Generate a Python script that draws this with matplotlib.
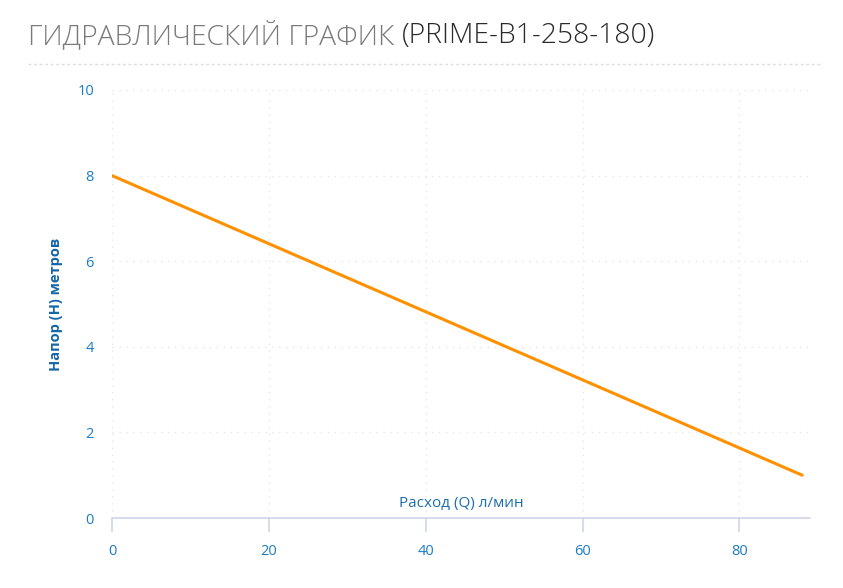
import matplotlib
matplotlib.use("Agg")
import matplotlib.pyplot as plt
from matplotlib.lines import Line2D

# Data
flow_q = [0, 88]          # л/мин
head_h = [8, 1]           # метров
x_ticks = [0, 20, 40, 60, 80]
y_ticks = [0, 2, 4, 6, 8, 10]

W, H = 843, 588
fig = plt.figure(figsize=(W / 100, H / 100), dpi=100)
plt.rcParams['font.family'] = ['Open Sans', 'DejaVu Sans']

left, right, bottom, top = 112, 810, 518, 90
ax = fig.add_axes([left / W, 1 - bottom / H, (right - left) / W, (bottom - top) / H])

ax.plot(flow_q, head_h, color='#ff9100', lw=2.2, solid_capstyle='round', zorder=3)

ax.set_xlim(0, 89)
ax.set_ylim(0, 10)
ax.set_xticks(x_ticks)
ax.set_yticks(y_ticks)

tick_color = '#1c7cc4'
ax.tick_params(axis='x', colors='#ccd6eb', labelcolor=tick_color, labelsize=10.5,
               length=10, width=1.2, direction='out', pad=9)
ax.tick_params(axis='y', length=0, labelcolor=tick_color, labelsize=10.5, pad=13)

for s in ['top', 'right', 'left']:
    ax.spines[s].set_visible(False)
ax.spines['bottom'].set_color('#ccd6eb')
ax.spines['bottom'].set_linewidth(1.2)

ax.grid(True, color='#e6e6e6', linestyle=(0, (1, 4)), linewidth=1.0)
ax.set_axisbelow(True)

ax.set_ylabel('Напор (H) метров', color='#1565a8', fontsize=10.5, fontweight='bold', labelpad=10)
ax.text(0.5, 0.017, 'Расход (Q) л/мин', transform=ax.transAxes, ha='center', va='bottom',
        color='#1c6eb0', fontsize=11)

# Title
t1 = fig.text(28 / W, 1 - 36 / H, 'ГИДРАВЛИЧЕСКИЙ ГРАФИК ', color='#7a7a7a', fontsize=20.3,
              fontweight='light', va='center', ha='left')
fig.canvas.draw()
bb = t1.get_window_extent()
fig.text(bb.x1 / W, 1 - 36 / H, '(PRIME-B1-258-180)', color='#2a2a2a', fontsize=20.3,
         fontweight='light', va='center', ha='left')

# Separator
fig.add_artist(Line2D([28 / W, 822 / W], [1 - 64 / H, 1 - 64 / H], transform=fig.transFigure,
                      color='#dddddd', lw=1, linestyle=(0, (2, 2))))

fig.savefig('out.png', dpi=100)
